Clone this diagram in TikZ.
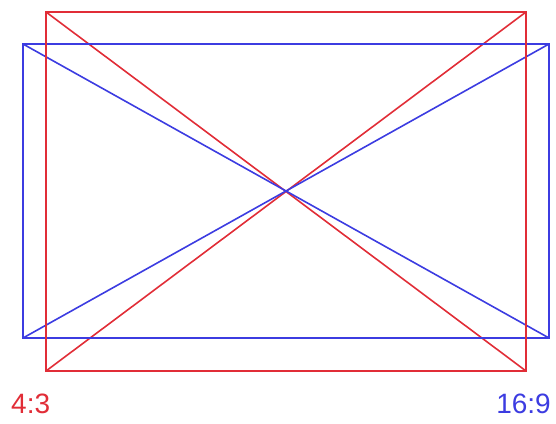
\documentclass[tikz,border=0pt]{standalone}
\usepackage{fontspec}
\setmainfont{Liberation Sans}
\definecolor{rd}{RGB}{225,45,55}
\definecolor{bl}{RGB}{60,60,225}
\begin{document}
\begin{tikzpicture}[x=1pt,y=-1pt,
  redline/.style={draw=rd,line width=1.6pt},
  blueline/.style={draw=bl,line width=1.6pt},
  lbl/.style={inner sep=0pt,font=\fontsize{28}{28}\selectfont}]
\useasboundingbox (0,0) rectangle (556,423);
\coordinate (r1) at (46,12);
\coordinate (r2) at (526,12);
\coordinate (r3) at (526,371);
\coordinate (r4) at (46,371);
\coordinate (b1) at (23,44);
\coordinate (b2) at (549,44);
\coordinate (b3) at (549,338);
\coordinate (b4) at (23,338);
\draw[redline] (r1) -- (r3) (r2) -- (r4);
\draw[blueline] (b1) -- (b2) -- (b3) -- (b4) -- cycle;
\draw[blueline] (b1) -- (b3) (b2) -- (b4);
\draw[redline] (r1) -- (r2) -- (r3) -- (r4) -- cycle;
\node[lbl,text=rd,anchor=base west] (l43) at (11,413) {4:3};
\node[lbl,text=bl,anchor=base east] (l169) at (551,413) {16:9};
\end{tikzpicture}
\end{document}
